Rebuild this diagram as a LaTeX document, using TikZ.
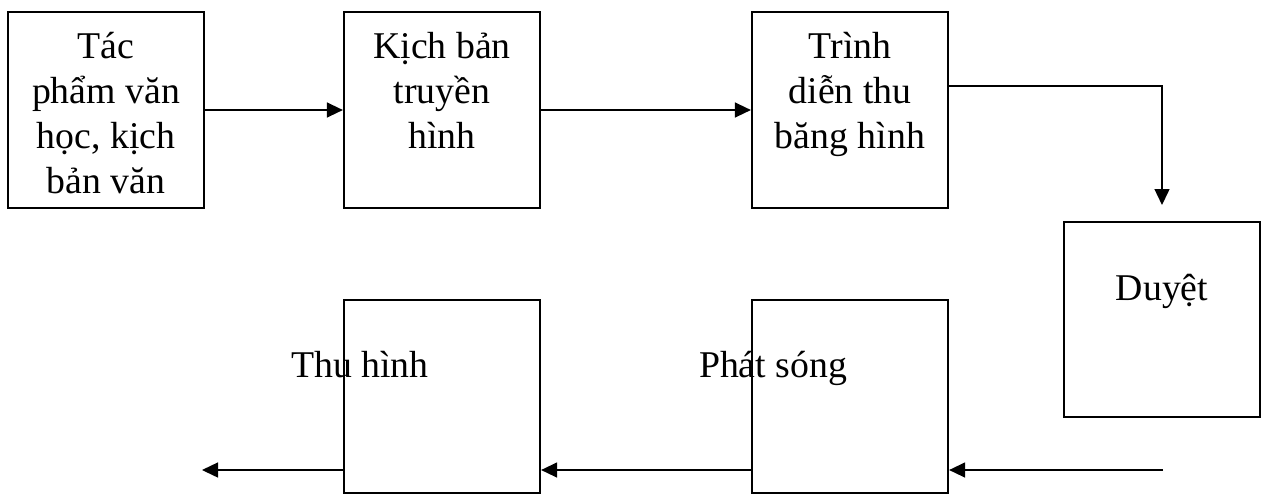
\documentclass[tikz,border=0pt]{standalone}
\usepackage{fontspec}
\setmainfont{Liberation Serif}
\usetikzlibrary{arrows.meta}

\tikzset{
  box/.style={draw, line width=0.045cm, inner sep=0pt, minimum width=3.92cm, minimum height=3.92cm},
  lowbox/.style={box, minimum height=3.86cm},
  lbl/.style={align=center, inner sep=0pt, anchor=base, font=\fontsize{21.5}{25.6}\selectfont},
  flow/.style={line width=0.028cm, -{Triangle[length=0.32cm, width=0.3cm]}}
}

\begin{document}
\begin{tikzpicture}[x=0.02cm, y=-0.02cm]
                        \useasboundingbox (0,0) rectangle (1267,495);
                        % upper row
                        \node[box] (tacpham) at (106,110) {};
                        \node[box] (kichban) at (442,110) {};
                        \node[box] (trinhdien) at (850,110) {};
                        \node[box, minimum height=3.9cm] (duyet) at (1162,319.5) {};
                        % lower row
                        \node[lowbox] (phatsong) at (850,396.5) {};
                        \node[lowbox] (thuhinh) at (442,396.5) {};
                        % labels (base = last line)
                        \node[lbl] (ttacpham) at (106,193) {Tác\\phẩm văn\\học, kịch\\bản văn};
                        \node[lbl] (tkichban) at (442,148) {Kịch bản\\truyền\\hình};
                        \node[lbl] (ttrinhdien) at (850,148) {Trình\\diễn thu\\băng hình};
                        \node[lbl] (tduyet) at (1162,300) {Duyệt};
                        \node[lbl] (tphatsong) at (773,377) {Phát sóng};
                        \node[lbl] (tthuhinh) at (360,377) {Thu hình};
                        % connectors
                        \coordinate (down) at (1162,205);
                        \coordinate (src) at (1163,470);
                        \coordinate (out) at (202,470);
                        \draw[flow] (tacpham) -- (kichban);
                        \draw[flow] (kichban) -- (trinhdien);
                        \draw[flow] (trinhdien.east |- 0,86) -| (down);
                        \draw[flow] (src) -- (phatsong.east |- src);
                        \draw[flow] (phatsong.west |- src) -- (thuhinh.east |- src);
                        \draw[flow] (thuhinh.west |- src) -- (out);
\end{tikzpicture}
\end{document}
